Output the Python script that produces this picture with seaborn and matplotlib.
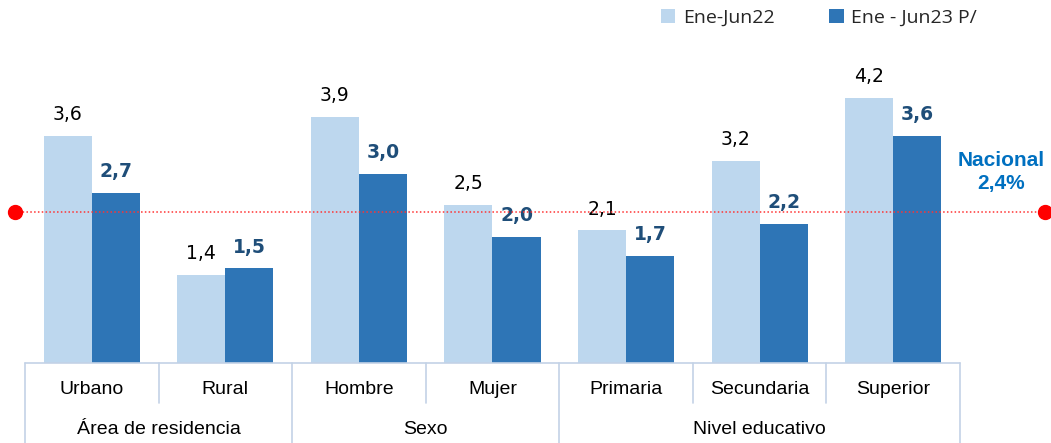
import matplotlib
matplotlib.use("Agg")
import matplotlib.pyplot as plt
import matplotlib.transforms as mtransforms
from matplotlib.font_manager import findfont, FontProperties
from matplotlib.patches import Patch
import seaborn as sns
import pandas as pd

categories = ["Urbano", "Rural", "Hombre", "Mujer", "Primaria", "Secundaria", "Superior"]
groups = ["Área de residencia", "Sexo", "Nivel educativo"]
group_sizes = [2, 2, 3]
series_names = ["Ene-Jun22", "Ene - Jun23 P/"]
values_2022 = [3.6, 1.4, 3.9, 2.5, 2.1, 3.2, 4.2]
values_2023 = [2.7, 1.5, 3.0, 2.0, 1.7, 2.2, 3.6]
national_value = 2.4
national_label = "Nacional\n2,4%"

light = "#bdd7ee"
dark = "#2e75b6"
sep_color = "#c3d2e6"

sns.set_theme(style="white")
narrow = "Liberation Sans Narrow"
try:
    findfont(FontProperties(family=narrow), fallback_to_default=False)
except Exception:
    narrow = "Liberation Sans"
plt.rcParams["font.family"] = ["DejaVu Sans"]

df = pd.DataFrame({
    "cat": categories * 2,
    "serie": [series_names[0]] * 7 + [series_names[1]] * 7,
    "val": values_2022 + values_2023,
})

fig = plt.figure(figsize=(10.51, 4.43), dpi=100)
ax = fig.add_axes([25 / 1051, 80 / 443, 935 / 1051, 363 / 443])
sns.barplot(data=df, x="cat", y="val", hue="serie", order=categories,
            hue_order=series_names, palette=[light, dark], width=0.72,
            saturation=1, ax=ax, legend=False, linewidth=0)
ax.set_xlim(-0.5, 6.5)
ax.set_ylim(0, 363 / 63.1)
for s in ax.spines.values():
    s.set_visible(False)
ax.set_xticks([])
ax.set_yticks([])
ax.set_xlabel("")
ax.set_ylabel("")

# value labels
for cont, color, weight in zip(ax.containers, ["black", "#1f4e79"], ["normal", "bold"]):
    labels = [f"{v:.1f}".replace(".", ",") for v in cont.datavalues]
    ax.bar_label(cont, labels=labels, padding=8.5, color=color, fontweight=weight, fontsize=13.5)

# national line
trans = mtransforms.blended_transform_factory(ax.transAxes, ax.transData)
ax.plot([-10 / 935, 1020 / 935], [national_value, national_value], transform=trans,
        color="#ff3333", linestyle=(0, (1, 1.5)), linewidth=1.1, clip_on=False, zorder=5)
ax.plot([-10 / 935, 1020 / 935], [national_value, national_value], transform=trans,
        color="red", linestyle="none", marker="o", markersize=10, clip_on=False, zorder=6)
ax.text(1.0 + 41 / 935, national_value + 0.63, national_label, transform=trans,
        ha="center", va="center", color="#0070c0", fontweight="bold", fontsize=15,
        family=narrow, linespacing=1.25)

# bottom table
tb = mtransforms.blended_transform_factory(ax.transData, ax.transAxes)
ax.plot([-0.5, 6.5], [0, 0], transform=tb, color=sep_color, lw=1.2, clip_on=False)
bounds = [-0.5]
for g in group_sizes:
    bounds.append(bounds[-1] + g)
for i in range(len(categories) + 1):
    x = i - 0.5
    y1 = -80 / 363 if x in bounds else -40 / 363
    ax.plot([x, x], [0, y1], transform=tb, color=sep_color, lw=1.2, clip_on=False)
for i, c in enumerate(categories):
    ax.text(i, -27 / 363, c, transform=tb, ha="center", va="center", fontsize=14,
            family=narrow, color="black")
for gi, g in enumerate(groups):
    mid = (bounds[gi] + bounds[gi + 1]) / 2
    ax.text(mid, -67 / 363, g, transform=tb, ha="center", va="center", fontsize=14,
            family=narrow, color="black")

# legend
handles = [Patch(facecolor=light, edgecolor="none"), Patch(facecolor=dark, edgecolor="none")]
fig.legend(handles, series_names, loc="center left", bbox_to_anchor=(643 / 1051, 1 - 18 / 443),
           ncol=2, frameon=False, handlelength=0.75, handleheight=0.75,
           columnspacing=2.8, handletextpad=0.4, prop={"family": "Open Sans", "size": 14})

fig.savefig("out.png", dpi=100)
